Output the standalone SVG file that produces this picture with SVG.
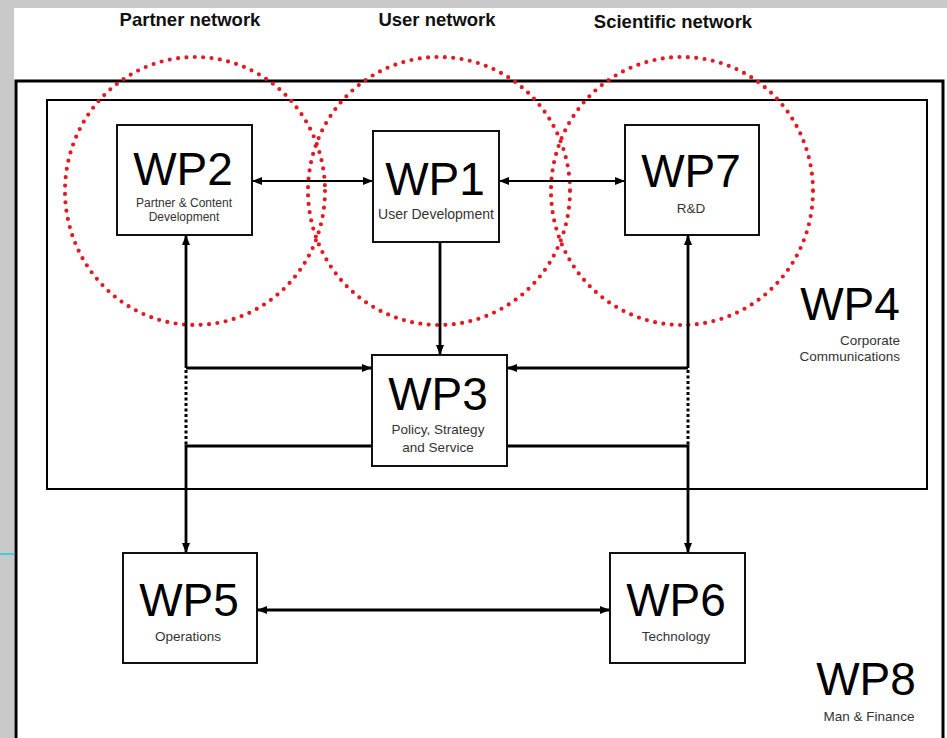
<svg xmlns="http://www.w3.org/2000/svg" width="947" height="738" viewBox="0 0 947 738">
<defs>
<style>
.frame{fill:none;stroke:#000}
.box{fill:#fff;stroke:#111;stroke-width:2}
.net{fill:none;stroke:#e01b24;stroke-width:4.2;stroke-linecap:round;stroke-dasharray:0 8.4}
.con{fill:none;stroke:#000;stroke-width:2.8}
.thin{stroke-width:2}
.dot{fill:none;stroke:#000;stroke-width:3;stroke-dasharray:3 2.5}
.big{font-family:"Liberation Sans",Arial,sans-serif;font-size:46px;fill:#000;text-anchor:middle}
.sub{font-family:"Liberation Sans",Arial,sans-serif;font-size:13.5px;fill:#333;text-anchor:middle}
.hdr{font-family:"Liberation Sans",Arial,sans-serif;font-size:18.5px;font-weight:bold;fill:#111;text-anchor:middle}
</style>
<marker id="ah" viewBox="0 0 10 8" refX="10" refY="4" markerUnits="userSpaceOnUse" markerWidth="10" markerHeight="8" orient="auto-start-reverse">
<path d="M0,0 L10,4 L0,8 z" fill="#000"/>
</marker>
</defs>
<rect x="0" y="0" width="947" height="738" fill="#c9c9c9"/>
<rect x="14" y="8" width="933" height="730" fill="#fff"/>
<line x1="0" y1="554" x2="14" y2="554" stroke="#3fd0e0" stroke-width="2"/>

<g id="headers">
<text class="hdr" x="190" y="26">Partner network</text>
<text class="hdr" x="437" y="26">User network</text>
<text class="hdr" x="673" y="28">Scientific network</text>
</g>

<g id="WP8">
<rect class="frame" x="16" y="81" width="927" height="680" stroke-width="3"/>
<text class="big" x="866" y="695">WP8</text>
<text class="sub" x="869" y="721">Man &amp; Finance</text>
</g>

<g id="WP4">
<rect class="frame" x="47" y="100" width="880" height="389" stroke-width="2"/>
<text class="big" x="850" y="320">WP4</text>
<text class="sub" x="900" y="345" style="text-anchor:end">Corporate</text>
<text class="sub" x="900" y="361" style="text-anchor:end">Communications</text>
</g>

<g id="networks">
<ellipse class="net" cx="195" cy="191" rx="130" ry="134"/>
<ellipse class="net" cx="439" cy="191" rx="131" ry="134"/>
<ellipse class="net" cx="682" cy="191" rx="131" ry="134"/>
</g>

<g id="connectors">
<line class="con thin" x1="252" y1="181" x2="373" y2="181" marker-start="url(#ah)" marker-end="url(#ah)"/>
<line class="con thin" x1="499" y1="181" x2="625" y2="181" marker-start="url(#ah)" marker-end="url(#ah)"/>
<line class="con" x1="440" y1="242" x2="440" y2="355" marker-end="url(#ah)"/>
<path class="con" d="M186,368 V235" marker-end="url(#ah)"/>
<path class="con" d="M186,368 H372" marker-end="url(#ah)"/>
<path class="dot" d="M186,370 V445"/>
<path class="con" d="M372,446 H186 V553" marker-end="url(#ah)"/>
<path class="con" d="M688,368 V235" marker-end="url(#ah)"/>
<path class="con" d="M688,368 H507" marker-end="url(#ah)"/>
<path class="dot" d="M688,370 V445"/>
<path class="con" d="M507,446 H688 V553" marker-end="url(#ah)"/>
<line class="con" x1="257" y1="610" x2="610" y2="610" marker-start="url(#ah)" marker-end="url(#ah)"/>
</g>

<g id="WP2">
<rect class="box" x="117" y="125" width="135" height="110"/>
<text class="big" x="183" y="185">WP2</text>
<text class="sub" x="184" y="207" style="font-size:12px">Partner &amp; Content</text>
<text class="sub" x="184" y="221" style="font-size:12px">Development</text>
</g>

<g id="WP1">
<rect class="box" x="373" y="131" width="126" height="111"/>
<text class="big" x="435" y="195">WP1</text>
<text class="sub" x="436" y="219" style="font-size:14px">User Development</text>
</g>

<g id="WP7">
<rect class="box" x="625" y="125" width="134" height="110"/>
<text class="big" x="691" y="187">WP7</text>
<text class="sub" x="691" y="213">R&amp;D</text>
</g>

<g id="WP3">
<rect class="box" x="372" y="355" width="135" height="111"/>
<text class="big" x="438" y="410">WP3</text>
<text class="sub" x="438" y="434">Policy, Strategy</text>
<text class="sub" x="438" y="452">and Service</text>
</g>

<g id="WP5">
<rect class="box" x="123" y="553" width="134" height="110"/>
<text class="big" x="189" y="616">WP5</text>
<text class="sub" x="188" y="641">Operations</text>
</g>

<g id="WP6">
<rect class="box" x="610" y="553" width="135" height="110"/>
<text class="big" x="676" y="616">WP6</text>
<text class="sub" x="676" y="641">Technology</text>
</g>
</svg>
